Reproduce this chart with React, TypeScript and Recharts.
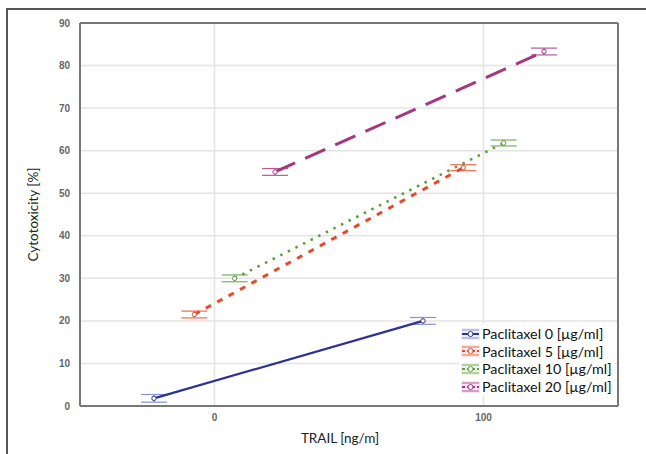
import React from "react";
import {
  LineChart,
  Line,
  XAxis,
  YAxis,
  CartesianGrid,
  ErrorBar,
  Legend,
  ReferenceLine,
} from "recharts";

// TRAIL doses [ng/ml] and the horizontal dodge used in the original plot
const trailDoses = [0, 100];
const dodge = [-22.5, -7.5, 7.5, 22.5];

const seriesNames = [
  "Paclitaxel 0 [µg/ml]",
  "Paclitaxel 5 [µg/ml]",
  "Paclitaxel 10 [µg/ml]",
  "Paclitaxel 20 [µg/ml]",
];

// cytotoxicity [%] at TRAIL 0 and 100
const pac0 = [1.8, 20.0];
const pac5 = [21.5, 56.0];
const pac10 = [30.0, 61.8];
const pac20 = [55.0, 83.3];

// +/- error
const pac0Err = [0.9, 0.8];
const pac5Err = [0.8, 0.7];
const pac10Err = [0.8, 0.7];
const pac20Err = [0.8, 0.8];

const yTicks = [0, 10, 20, 30, 40, 50, 60, 70, 80, 90];
const xTicks = [0, 100];

const colors = ["#2d3192", "#e8492b", "#5e9c40", "#a5387f"];
const errColors = ["#8b8fcf", "#ec6a4f", "#78b05e", "#b85a98"];
const dashes = ["", "6 7", "2.5 6", "22 11"];
const widths = [2.2, 3, 2.6, 3];

const makeData = (vals: number[], errs: number[], i: number) =>
  trailDoses.map((d, k) => ({ x: d + dodge[i], y: vals[k], err: errs[k] }));

const allSeries = [
  makeData(pac0, pac0Err, 0),
  makeData(pac5, pac5Err, 1),
  makeData(pac10, pac10Err, 2),
  makeData(pac20, pac20Err, 3),
];

const tickStyle = {
  fontFamily: "'Liberation Sans Narrow', 'Arial Narrow', 'Liberation Sans', Arial, sans-serif",
  fontSize: 10,
  fontWeight: 700,
  fill: "#666",
};

function LegendIcon({ i }: { i: number }) {
  const c = colors[i];
  const e = errColors[i];
  return (
    <svg width={19} height={14} style={{ display: "block" }}>
      <rect x={0} y={1} width={19} height={12} fill={e} opacity={0.15} />
      <line x1={1} y1={3} x2={18} y2={3} stroke={e} strokeWidth={1} />
      <line x1={1} y1={11} x2={18} y2={11} stroke={e} strokeWidth={1} />
      <line x1={1} y1={7} x2={18} y2={7} stroke={c} strokeWidth={2} strokeDasharray={dashes[i] ? "3 2" : undefined} />
      <circle cx={9.5} cy={7} r={2.5} fill="#fff" stroke={c} strokeWidth={1} />
    </svg>
  );
}

function LegendBox() {
  return (
    <div style={{ background: "#fff", padding: "1px 2px" }}>
      {seriesNames.map((n, i) => (
        <div key={n} style={{ display: "flex", alignItems: "center", height: 17.6 }}>
          <LegendIcon i={i} />
          <span
            style={{
              fontFamily: "Lato, 'Open Sans', sans-serif",
              fontSize: 14.3,
              color: "#111",
              marginLeft: 2,
              whiteSpace: "nowrap",
            }}
          >
            {n}
          </span>
        </div>
      ))}
    </div>
  );
}

export default function App() {
  return (
    <div style={{ position: "absolute", left: 0, top: 0, width: 646, height: 454, background: "#fff" }}>
      <div
        style={{
          position: "absolute",
          left: 6,
          top: 8,
          width: 640,
          height: 446,
          borderTop: "2px solid #555",
          borderLeft: "2px solid #555",
        }}
      />
      <div style={{ position: "absolute", left: 0, top: 0 }}>
        <LineChart width={646} height={454} margin={{ top: 23, right: 28, left: 10, bottom: 18 }}>
          <CartesianGrid stroke="#e4e4e4" strokeWidth={1.5} />
          <XAxis
            type="number"
            dataKey="x"
            domain={[-50, 150]}
            ticks={xTicks}
            tick={tickStyle}
            tickLine={false}
            tickSize={6}
            tickMargin={2}
            axisLine={{ stroke: "#777", strokeWidth: 2 }}
            height={30}
            allowDataOverflow
            label={{
              value: "TRAIL [ng/m]",
              position: "insideBottom",
              offset: -7,
              dx: -9,
              style: { fontFamily: "Lato, 'Open Sans', sans-serif", fontSize: 13.5, fill: "#222" },
            }}
          />
          <YAxis
            type="number"
            domain={[0, 90]}
            ticks={yTicks}
            interval={0}
            tick={tickStyle}
            tickLine={false}
            tickSize={6}
            tickMargin={4}
            axisLine={{ stroke: "#777", strokeWidth: 2 }}
            width={70}
            label={{
              value: "Cytotoxicity [%]",
              angle: -90,
              position: "insideLeft",
              offset: 23,
              style: { textAnchor: "middle", fontFamily: "Lato, 'Open Sans', sans-serif", fontSize: 13.5, fill: "#222" },
            }}
          />
          <ReferenceLine y={90} stroke="#777" strokeWidth={2} />
          <ReferenceLine x={150} stroke="#777" strokeWidth={2} />
          {allSeries.map((d, i) => (
            <Line
              key={seriesNames[i]}
              data={d}
              dataKey="y"
              name={seriesNames[i]}
              stroke={colors[i]}
              strokeWidth={widths[i]}
              strokeDasharray={dashes[i] || undefined}
              dot={{ r: 2.2, fill: "#fff", stroke: colors[i], strokeWidth: 1, strokeDasharray: "none" }}
              activeDot={false}
              isAnimationActive={false}
            >
              <ErrorBar dataKey="err" direction="y" width={13} stroke={errColors[i]} strokeWidth={1.2} />
            </Line>
          ))}
          <Legend
            layout="vertical"
            align="center"
            verticalAlign="middle"
            content={() => <LegendBox />}
            wrapperStyle={{ left: 459, top: 324, width: "auto" }}
          />
        </LineChart>
      </div>
    </div>
  );
}
